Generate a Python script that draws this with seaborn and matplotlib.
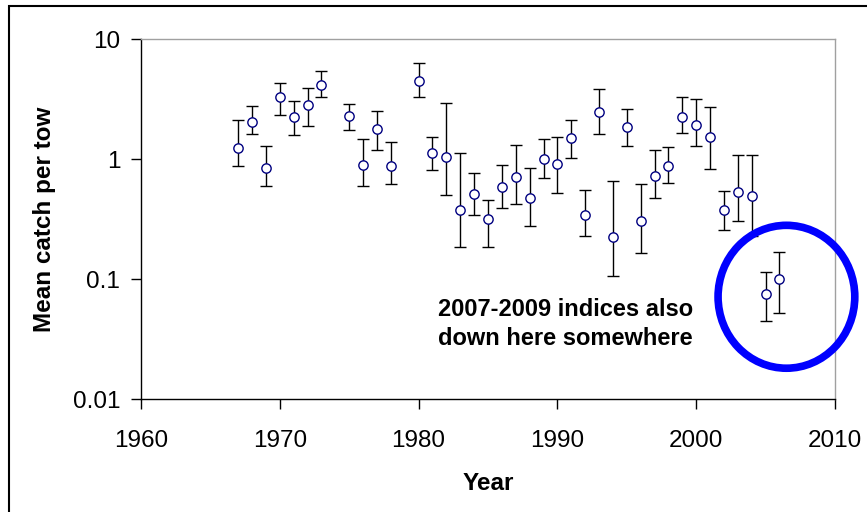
import numpy as np
import pandas as pd
import matplotlib
matplotlib.use("Agg")
import matplotlib.pyplot as plt
from matplotlib.patches import Ellipse, Rectangle
import seaborn as sns

sns.set_style("white")
plt.rcParams['font.family'] = ['Liberation Sans', 'DejaVu Sans']
plt.rcParams['text.color'] = 'black'
plt.rcParams['axes.labelcolor'] = 'black'
plt.rcParams['xtick.color'] = 'black'
plt.rcParams['ytick.color'] = 'black'

# survey index values
years = [1967, 1968, 1969, 1970, 1971, 1972, 1973, 1975, 1976, 1977, 1978,
         1980, 1981, 1982, 1983, 1984, 1985, 1986, 1987, 1988, 1989, 1990,
         1991, 1992, 1993, 1994, 1995, 1996, 1997, 1998, 1999, 2000, 2001,
         2002, 2003, 2004, 2005, 2006]
mean_catch = [1.23, 2.05, 0.836, 3.27, 2.25, 2.82, 4.16, 2.30, 0.886, 1.77, 0.87,
              4.49, 1.13, 1.04, 0.378, 0.514, 0.314, 0.58, 0.708, 0.476, 1.0, 0.903,
              1.51, 0.343, 2.45, 0.224, 1.85, 0.303, 0.726, 0.87, 2.25, 1.92, 1.53,
              0.378, 0.534, 0.495, 0.0745, 0.0994]
lower_ci = [0.875, 1.62, 0.60, 2.33, 1.58, 1.90, 3.27, 1.75, 0.60, 1.19, 0.62,
            3.27, 0.81, 0.50, 0.185, 0.34, 0.185, 0.39, 0.425, 0.278, 0.69, 0.52,
            1.02, 0.227, 1.62, 0.105, 1.29, 0.164, 0.47, 0.635, 1.65, 1.29, 0.83,
            0.255, 0.306, 0.23, 0.0447, 0.0524]
upper_ci = [2.10, 2.78, 1.29, 4.27, 3.03, 3.93, 5.44, 2.86, 1.48, 2.53, 1.39,
            6.31, 1.52, 2.91, 1.12, 0.76, 0.458, 0.897, 1.32, 0.847, 1.46, 1.52,
            2.10, 0.548, 3.85, 0.652, 2.62, 0.623, 1.19, 1.26, 3.27, 3.14, 2.73,
            0.538, 1.07, 1.09, 0.114, 0.169]

df = pd.DataFrame({'Year': years, 'Catch': mean_catch,
                   'Low': lower_ci, 'High': upper_ci})

fig = plt.figure(figsize=(8.67, 5.12), dpi=100)
ax = fig.add_axes([0.1626, 0.2207, 0.8005, 0.7031])

# error bars first, then open circles on top
ax.errorbar(df['Year'], df['Catch'],
            yerr=[df['Catch'] - df['Low'], df['High'] - df['Catch']],
            fmt='none', ecolor='black', elinewidth=1, capsize=4, capthick=1, zorder=2)
sns.scatterplot(data=df, x='Year', y='Catch', marker='o', s=45,
                facecolor='white', edgecolor='#000080', linewidth=1, zorder=3, ax=ax)

ax.set_yscale('log')
ax.set_xlim(1960, 2010)
ax.set_ylim(0.01, 10)
ax.set_xticks([1960, 1970, 1980, 1990, 2000, 2010])
ax.set_yticks([0.01, 0.1, 1, 10])
ax.set_yticklabels(['0.01', '0.1', '1', '10'])
ax.minorticks_off()
ax.tick_params(axis='both', direction='out', length=7, width=1, color='black',
               labelsize=17.5, left=True, bottom=True)
ax.tick_params(axis='x', pad=15)
ax.tick_params(axis='y', pad=8)

for side in ['left', 'bottom']:
    ax.spines[side].set_color('black')
    ax.spines[side].set_linewidth(1)
for side in ['top', 'right']:
    ax.spines[side].set_color('#a0a0a0')
    ax.spines[side].set_linewidth(1)

ax.set_xlabel('Year', fontsize=17.5, weight='bold', labelpad=15)
ax.set_ylabel('Mean catch per tow', fontsize=17.5, weight='bold', labelpad=12)

ax.text(0.612, 0.208, '2007-2009 indices also\ndown here somewhere',
        transform=ax.transAxes, ha='center', va='center', fontsize=17,
        weight='bold', linespacing=1.32)

ring = Ellipse((0.930, 0.284), 0.197, 0.397, transform=ax.transAxes,
               fill=False, edgecolor='#0000ff', linewidth=5.5, clip_on=False, zorder=4)
ax.add_patch(ring)

# outer frame of the figure
fig.patches.append(Rectangle((9 / 867, -0.1), 1.2, 1.1 - 6 / 512,
                             transform=fig.transFigure, fill=False,
                             edgecolor='black', linewidth=1.5))

plt.savefig('out.png', dpi=100)
plt.close()
